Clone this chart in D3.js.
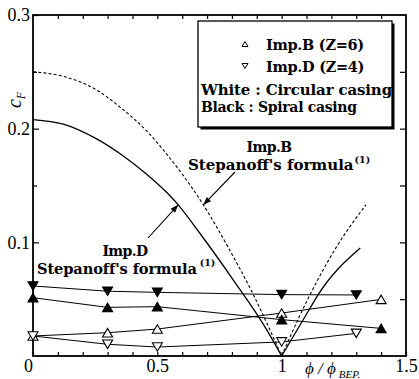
<!DOCTYPE html>
<html>
<head>
<meta charset="utf-8">
<script src="https://cdn.jsdelivr.net/npm/d3@7"></script>
<style>
  html, body { margin: 0; padding: 0; background: #fff; }
  svg { display: block; }
  svg text { fill: #000; }
</style>
</head>
<body>
<svg id="chart" width="419" height="379" font-family="Liberation Serif, Times New Roman, serif"></svg>
<script>
// Measured radial-force coefficient c_F against flow rate ratio
const impB_spiral   = [[0, 0.0513], [0.3, 0.0428], [0.5, 0.0434], [1.0, 0.0320], [1.4, 0.0243]];
const impD_spiral   = [[0, 0.0616], [0.3, 0.0570], [0.5, 0.0560], [1.0, 0.0540], [1.3, 0.0537]];
const impB_circular = [[0, 0.0176], [0.3, 0.0205], [0.5, 0.0237], [1.0, 0.0378], [1.4, 0.0498]];
const impD_circular = [[0, 0.0176], [0.3, 0.0103], [0.5, 0.0079], [1.0, 0.0124], [1.3, 0.0199]];

// Stepanoff's formula curves
const stepanoffB = [[0, 0.250], [0.122, 0.246], [0.256, 0.234], [0.350, 0.219], [0.457, 0.198],
                    [0.551, 0.174], [0.685, 0.133], [0.789, 0.094], [0.886, 0.054], [1.0, 0.0],
                    [1.074, 0.036], [1.215, 0.094], [1.339, 0.133]];
const stepanoffD = [[0, 0.208], [0.122, 0.204], [0.256, 0.191], [0.363, 0.176], [0.457, 0.160],
                    [0.551, 0.141], [0.584, 0.133], [0.671, 0.108], [0.805, 0.067], [0.940, 0.023],
                    [1.0, 0.0], [1.114, 0.042], [1.141, 0.052], [1.316, 0.095]];

// Axis ticks
const xTicks = [0, 0.1, 0.2, 0.3, 0.4, 0.5, 0.6, 0.7, 0.8, 0.9, 1.0, 1.1, 1.2, 1.3, 1.4, 1.5];
const xLabels = [0, 0.5, 1, 1.5];
const yMinorTicks = [0.05, 0.15, 0.25];
const yMajorTicks = [0.1, 0.2, 0.3];
const yAllTicks = [0.05, 0.1, 0.15, 0.2, 0.25];

const SERIF = "Liberation Serif, Times New Roman, serif";
const HEAVY = "DejaVu Serif, serif";
const svg = d3.select("#chart");
const x = d3.scaleLinear().domain([0, 1.5]).range([33, 406]);
const y = d3.scaleLinear().domain([0, 0.3]).range([356, 15]);

// ---- axes ----
const bottom = svg.append("g").attr("transform", `translate(0,${y(0)})`)
  .call(d3.axisBottom(x).tickValues(xTicks).tickSizeInner(-4).tickSizeOuter(0).tickPadding(3)
    .tickFormat(d => xLabels.some(v => Math.abs(v - d) < 1e-9) ? String(+d.toFixed(1)) : ""));
bottom.attr("font-family", SERIF).attr("font-size", 18);
bottom.selectAll("text").filter(d => d === 0).attr("dx", -5);

svg.append("g").attr("transform", `translate(0,${y(0.3)})`)
  .call(d3.axisTop(x).tickValues(xTicks.slice(1, -1)).tickSizeInner(-4).tickSizeOuter(0).tickFormat(""));

svg.append("g").attr("transform", `translate(${x(0)},0)`)
  .call(d3.axisLeft(y).tickValues(yMinorTicks).tickSizeInner(-4).tickSizeOuter(0).tickFormat(""));
const leftMajor = svg.append("g").attr("transform", `translate(${x(0)},0)`)
  .call(d3.axisLeft(y).tickValues(yMajorTicks).tickSizeInner(-6).tickSizeOuter(0).tickPadding(3)
    .tickFormat(d3.format(".1f")));
leftMajor.attr("font-family", SERIF).attr("font-size", 18);

svg.append("g").attr("transform", `translate(${x(1.5)},0)`)
  .call(d3.axisRight(y).tickValues(yAllTicks).tickSizeInner(-6).tickSizeOuter(0).tickFormat(""));

svg.selectAll(".domain").remove();
svg.selectAll(".tick line").attr("stroke", "#000").attr("stroke-width", 1.2);

// plot frame
svg.append("rect")
  .attr("x", x(0)).attr("y", y(0.3))
  .attr("width", x(1.5) - x(0)).attr("height", y(0) - y(0.3))
  .attr("fill", "none").attr("stroke", "#000").attr("stroke-width", 1.8);

// ---- axis titles ----
const yTitle = svg.append("text")
  .attr("transform", `translate(21,100) rotate(-90)`)
  .attr("text-anchor", "middle")
  .style("font-style", "italic");
yTitle.append("tspan").attr("font-size", 20).text("c");
yTitle.append("tspan").attr("font-size", 12).attr("dy", 4).text("F");

const xTitle = svg.append("text")
  .attr("x", 305).attr("y", 374)
  .style("font-style", "italic");
xTitle.append("tspan").attr("font-size", 17).text("\u03D5 / \u03D5");
xTitle.append("tspan").attr("font-size", 11).attr("dx", 3).attr("dy", 4).text("BEP.");

// ---- Stepanoff curves ----
const curveLine = d3.line().x(d => x(d[0])).y(d => y(d[1])).curve(d3.curveMonotoneX);
const leftBranch = arr => arr.filter(d => d[0] <= 1.0);
const rightBranch = arr => arr.filter(d => d[0] >= 1.0);

[leftBranch, rightBranch].forEach(br => {
  svg.append("path").datum(br(stepanoffB)).attr("d", curveLine)
    .attr("fill", "none").attr("stroke", "#000").attr("stroke-width", 1.1)
    .attr("stroke-dasharray", "3,2.2");
  svg.append("path").datum(br(stepanoffD)).attr("d", curveLine)
    .attr("fill", "none").attr("stroke", "#000").attr("stroke-width", 1.3);
});

// ---- measured series ----
const straight = d3.line().x(d => x(d[0])).y(d => y(d[1]));
const series = [
  { data: impB_circular, up: true,  fill: "#fff" },
  { data: impD_circular, up: false, fill: "#fff" },
  { data: impB_spiral,   up: true,  fill: "#000" },
  { data: impD_spiral,   up: false, fill: "#000" }
];
series.forEach(s => {
  svg.append("path").datum(s.data).attr("d", straight)
    .attr("fill", "none").attr("stroke", "#000").attr("stroke-width", 1);
});

function triangle(cx, cy, up, w, h) {
  const hw = w / 2, hh = h / 2;
  return up
    ? `M${cx - hw},${cy + hh}L${cx + hw},${cy + hh}L${cx},${cy - hh}Z`
    : `M${cx - hw},${cy - hh}L${cx + hw},${cy - hh}L${cx},${cy + hh}Z`;
}
series.forEach(s => {
  svg.append("g").selectAll("path").data(s.data).join("path")
    .attr("d", d => triangle(x(d[0]), y(d[1]), s.up, 10, 8.5))
    .attr("fill", s.fill).attr("stroke", "#000").attr("stroke-width", 1.1);
});

// ---- annotations ----
function arrow(x1, y1, x2, y2) {
  svg.append("line").attr("x1", x1).attr("y1", y1).attr("x2", x2).attr("y2", y2)
    .attr("stroke", "#000").attr("stroke-width", 1.1);
  const a = Math.atan2(y2 - y1, x2 - x1), L = 8, Wd = 3;
  const bx = x2 - L * Math.cos(a), by = y2 - L * Math.sin(a);
  const px = -Math.sin(a) * Wd, py = Math.cos(a) * Wd;
  svg.append("path")
    .attr("d", `M${x2},${y2}L${bx + px},${by + py}L${bx - px},${by - py}Z`)
    .attr("fill", "#000");
}

const annB = svg.append("g").attr("font-family", HEAVY).attr("font-weight", "bold");
annB.append("text").attr("x", 269).attr("y", 152).attr("text-anchor", "middle")
  .attr("font-size", 14).attr("letter-spacing", -0.6).text("Imp.B");
const sB = annB.append("text").attr("x", 188).attr("y", 169.5).attr("font-size", 15);
sB.append("tspan").text("Stepanoff's formula");
sB.append("tspan").attr("font-size", 9.5).attr("dx", 1).attr("dy", -7).text("(1)");
arrow(235, 172, x(0.685), y(0.133));

const annD = svg.append("g").attr("font-family", HEAVY).attr("font-weight", "bold");
annD.append("text").attr("x", 125).attr("y", 256).attr("text-anchor", "middle")
  .attr("font-size", 14).attr("letter-spacing", -0.6).text("Imp.D");
const sD = annD.append("text").attr("x", 37).attr("y", 273.5).attr("font-size", 14.6)
  .attr("letter-spacing", -0.1);
sD.append("tspan").text("Stepanoff's formula");
sD.append("tspan").attr("font-size", 9.5).attr("dx", 3).attr("dy", -8).text("(1)");
arrow(148, 238, x(0.584), y(0.133));

// ---- legend ----
const lg = svg.append("g").attr("font-family", HEAVY).attr("font-weight", "bold");
lg.append("rect").attr("x", 200.5).attr("y", 23.5).attr("width", 194).attr("height", 106).attr("fill", "#000");
lg.append("rect").attr("x", 198).attr("y", 21).attr("width", 194).attr("height", 106)
  .attr("fill", "#fff").attr("stroke", "#000").attr("stroke-width", 1.3);

const legendItems = [
  { label: "Imp.B (Z=6)", up: true,  ty: 50 },
  { label: "Imp.D (Z=4)", up: false, ty: 72 }
];
legendItems.forEach(it => {
  lg.append("path").attr("d", triangle(245, it.ty - 6, it.up, 6, 5))
    .attr("fill", "#fff").attr("stroke", "#000").attr("stroke-width", 1);
  lg.append("text").attr("x", 266).attr("y", it.ty).attr("font-size", 14.5)
    .attr("letter-spacing", -0.3).text(it.label);
});
lg.append("text").attr("x", 201).attr("y", 95).attr("font-size", 15)
  .attr("letter-spacing", -0.15).text("White : Circular casing");
lg.append("text").attr("x", 201).attr("y", 112).attr("font-size", 14)
  .attr("letter-spacing", -0.3).text("Black : Spiral casing");
</script>
</body>
</html>
